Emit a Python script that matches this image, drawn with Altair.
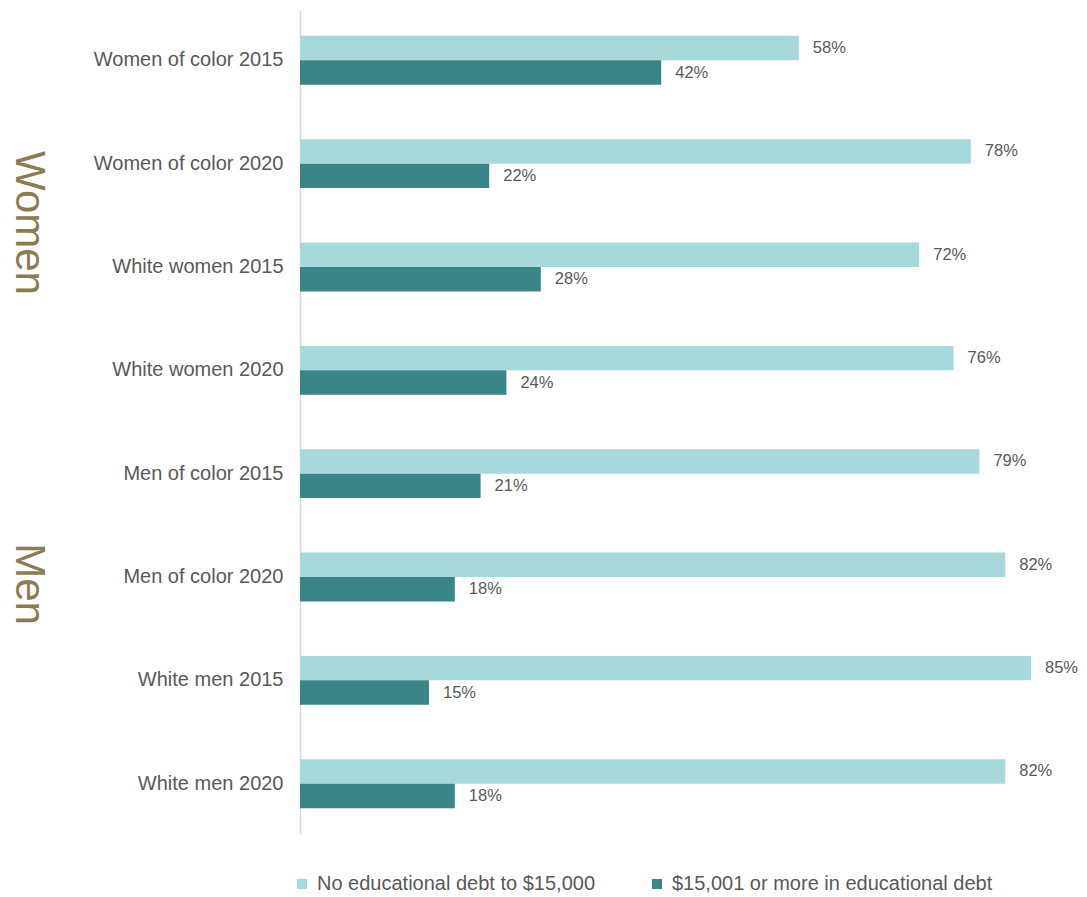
import altair as alt
import pandas as pd

categories = ["Women of color 2015", "Women of color 2020", "White women 2015", "White women 2020",
              "Men of color 2015", "Men of color 2020", "White men 2015", "White men 2020"]
series = ["No educational debt to $15,000", "$15,001 or more in educational debt"]
no_debt = [58, 78, 72, 76, 79, 82, 85, 82]
debt = [42, 22, 28, 24, 21, 18, 15, 18]
colors = ["#A7D8DA", "#3A8585"]

rows = []
for c, a, b in zip(categories, no_debt, debt):
    rows.append({"cat": c, "series": series[0], "value": a / 100})
    rows.append({"cat": c, "series": series[1], "value": b / 100})
df = pd.DataFrame(rows)

FONT = "Liberation Sans"
GREY = "#595959"

y_enc = alt.Y("cat:N", sort=categories, title=None,
              scale=alt.Scale(paddingInner=0.527, paddingOuter=0.25),
              axis=alt.Axis(ticks=False, domainColor="#D9D9D9", domainWidth=1.5,
                            labelFont=FONT, labelFontSize=20, labelColor=GREY,
                            labelPadding=17, labelLimit=300))
x_enc = alt.X("value:Q", scale=alt.Scale(domain=[0, 0.85]), axis=None, title=None)
yoff = alt.YOffset("series:N", sort=series)

bars = alt.Chart(df).mark_bar().encode(
    y=y_enc, x=x_enc, yOffset=yoff,
    color=alt.Color("series:N", sort=series,
                    scale=alt.Scale(domain=series, range=colors),
                    legend=alt.Legend(title=None, orient="none", direction="horizontal",
                                      legendX=-8, legendY=864, padding=0,
                                      symbolType="square", symbolSize=100,
                                      symbolStrokeWidth=0, symbolOpacity=1,
                                      labelFont=FONT, labelFontSize=20, labelColor=GREY,
                                      labelLimit=400, columnPadding=52, labelOffset=5)),
)

labels = alt.Chart(df).mark_text(align="left", baseline="middle", dx=14,
                                 font=FONT, fontSize=16.5, color=GREY).encode(
    y=alt.Y("cat:N", sort=categories), x=x_enc, yOffset=yoff,
    text=alt.Text("value:Q", format=".0%"),
)

group_df = pd.DataFrame({"g": ["Women", "Men"], "py": [213, 574]})
groups = alt.Chart(group_df).mark_text(angle=90, align="center", baseline="middle",
                                       font=FONT, fontSize=42, color="#8A7C55").encode(
    x=alt.value(-271), y=alt.Y("py:Q", scale=None), text="g:N")

chart = alt.layer(bars, labels, groups).properties(
    width=731, height=824,
    autosize=alt.AutoSizeParams(type="none"),
    padding={"left": 292, "top": 2, "right": 48, "bottom": 63},
).configure_view(stroke=None)

chart.save("out.html", embed_options={"renderer": "svg", "actions": False})
